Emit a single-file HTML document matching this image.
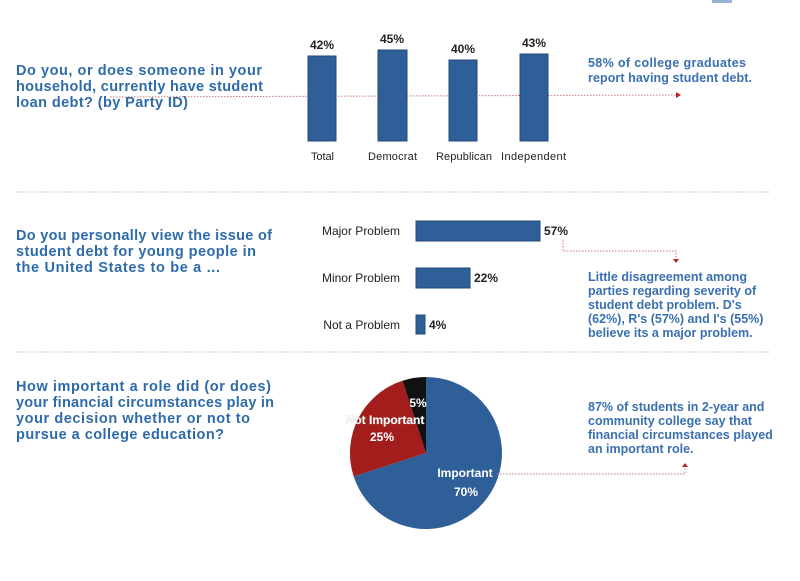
<!DOCTYPE html>
<html><head><meta charset="utf-8"><style>
body{margin:0;background:#fff;}
svg{display:block;font-family:"Liberation Sans",sans-serif;}
.q{fill:#2e6bab;font-size:14.5px;font-weight:bold;}
.a{fill:#3a6fb0;font-size:12.5px;font-weight:bold;}
.l{fill:#222;font-size:11px;}
.v{fill:#222;font-size:12px;font-weight:bold;}
</style></head><body>
<svg width="800" height="581" viewBox="0 0 800 581">
<rect width="800" height="581" fill="#fff"/>
<path d="M712 0 h20 v3 h-20z" fill="#2e6bab" opacity="0.5"/>
<!-- Section 1 -->
<line x1="110" y1="97" x2="676" y2="95" stroke="#c77" stroke-width="1" stroke-dasharray="1.5,1.5"/>
<path d="M676 92 l5 3 l-5 3z" fill="#b22"/>
<text class="q" x="16" y="75" textLength="246">Do you, or does someone in your</text>
<text class="q" x="16" y="91" textLength="247">household, currently have student</text>
<text class="q" x="16" y="107" textLength="172">loan debt? (by Party ID)</text>
<rect x="308" y="56" width="28" height="85" fill="#2e5f99" stroke="#244a78"/>
<rect x="378" y="50" width="29" height="91" fill="#2e5f99" stroke="#244a78"/>
<rect x="449" y="60" width="28" height="81" fill="#2e5f99" stroke="#244a78"/>
<rect x="520" y="54" width="28" height="87" fill="#2e5f99" stroke="#244a78"/>
<text class="v" x="322" y="49" text-anchor="middle">42%</text>
<text class="v" x="392" y="43" text-anchor="middle">45%</text>
<text class="v" x="463" y="53" text-anchor="middle">40%</text>
<text class="v" x="534" y="47" text-anchor="middle">43%</text>
<text class="l" x="311" y="160" textLength="23">Total</text>
<text class="l" x="368" y="160" textLength="49">Democrat</text>
<text class="l" x="436" y="160" textLength="56">Republican</text>
<text class="l" x="501" y="160" textLength="65">Independent</text>
<text class="a" x="588" y="67" textLength="158">58% of college graduates</text>
<text class="a" x="588" y="82" textLength="164">report having student debt.</text>
<line x1="16" y1="192" x2="770" y2="192" stroke="#bbb" stroke-dasharray="1.5,1.5"/>
<!-- Section 2 -->
<text class="q" x="16" y="240" textLength="256">Do you personally view the issue of</text>
<text class="q" x="16" y="256" textLength="240">student debt for young people in</text>
<text class="q" x="16" y="272" textLength="204">the United States to be a ...</text>
<text class="l" x="400" y="235" text-anchor="end" style="font-size:12px">Major Problem</text>
<text class="l" x="400" y="282" text-anchor="end" style="font-size:12px">Minor Problem</text>
<text class="l" x="400" y="329" text-anchor="end" style="font-size:12px">Not a Problem</text>
<rect x="416" y="221" width="124" height="20" fill="#2e5f99" stroke="#244a78"/>
<rect x="416" y="268" width="54" height="20" fill="#2e5f99" stroke="#244a78"/>
<rect x="416" y="315" width="9" height="19" fill="#2e5f99" stroke="#244a78"/>
<text class="v" x="544" y="235">57%</text>
<text class="v" x="474" y="282">22%</text>
<text class="v" x="429" y="329">4%</text>
<path d="M563 240 v11 h113 v7" fill="none" stroke="#c77" stroke-dasharray="1.5,1.5"/>
<path d="M673 259 l3 4 l3 -4z" fill="#b22"/>
<text class="a" x="588" y="281">Little disagreement among</text>
<text class="a" x="588" y="295">parties regarding severity of</text>
<text class="a" x="588" y="309">student debt problem. D's</text>
<text class="a" x="588" y="323">(62%), R's (57%) and I's (55%)</text>
<text class="a" x="588" y="337">believe its a major problem.</text>
<line x1="16" y1="352" x2="770" y2="352" stroke="#bbb" stroke-dasharray="1.5,1.5"/>
<!-- Section 3 -->
<text class="q" x="16" y="391" textLength="255">How important a role did (or does)</text>
<text class="q" x="16" y="407" textLength="258">your financial circumstances play in</text>
<text class="q" x="16" y="423" textLength="234">your decision whether or not to</text>
<text class="q" x="16" y="439" textLength="208">pursue a college education?</text>
<path d="M426 453 L426 377 A76 76 0 1 1 353.7 476.5Z" fill="#2e5f99"/>
<path d="M426 453 L353.7 476.5 A76 76 0 0 1 402.5 380.7Z" fill="#a31d1d"/>
<path d="M426 453 L402.5 380.7 A76 76 0 0 1 426 377Z" fill="#111"/>
<text x="418" y="407" fill="#fff" font-size="12" font-weight="bold" text-anchor="middle">5%</text>
<text x="385" y="424" fill="#fff" font-size="12" font-weight="bold" text-anchor="middle" stroke="#ccc" stroke-width="0.3">Not Important</text>
<text x="382" y="441" fill="#fff" font-size="12" font-weight="bold" text-anchor="middle">25%</text>
<text x="465" y="477" fill="#fff" font-size="12" font-weight="bold" text-anchor="middle">Important</text>
<text x="466" y="496" fill="#fff" font-size="12" font-weight="bold" text-anchor="middle">70%</text>
<path d="M497 474 h188 v-9" fill="none" stroke="#c77" stroke-dasharray="1.5,1.5"/>
<path d="M682 467 l3 -4 l3 4z" fill="#b22"/>
<text class="a" x="588" y="411">87% of students in 2-year and</text>
<text class="a" x="588" y="425">community college say that</text>
<text class="a" x="588" y="439">financial circumstances played</text>
<text class="a" x="588" y="453">an important role.</text>
</svg>
</body></html>
